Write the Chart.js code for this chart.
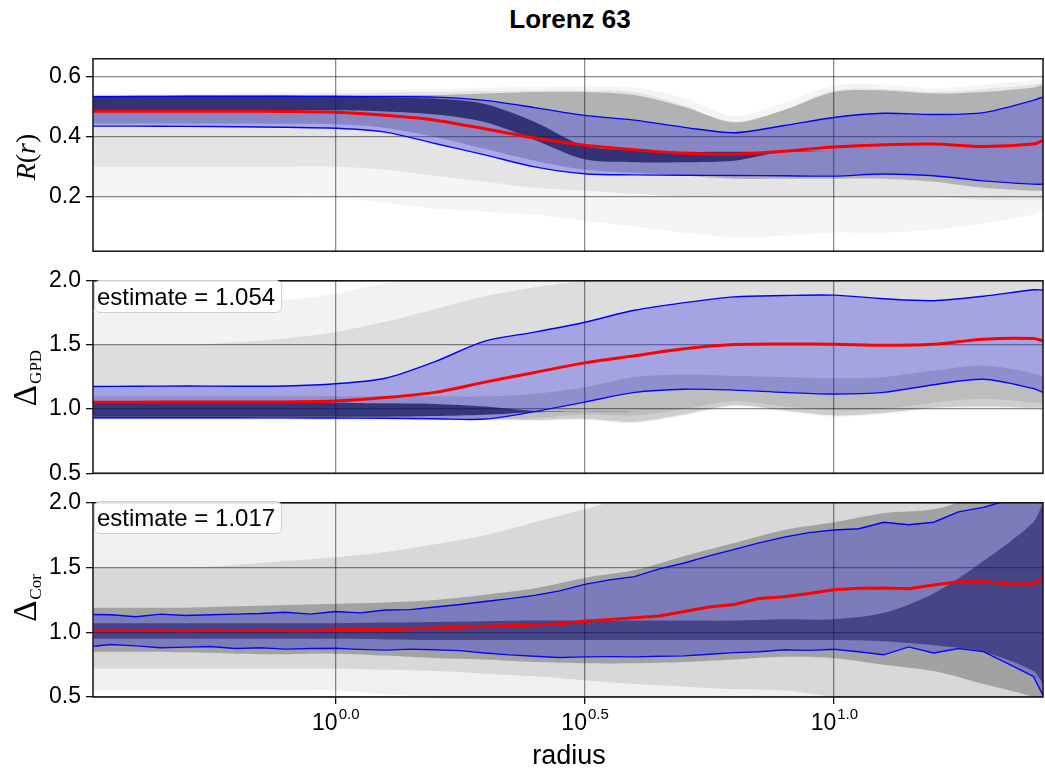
<!DOCTYPE html>
<html>
<head>
<meta charset="utf-8">
<script src="https://cdn.jsdelivr.net/npm/chart.js@4.4.1/dist/chart.umd.min.js"></script>
<style>
  body { margin: 0; background: #fff; }
  #wrap { position: relative; width: 1045px; height: 773px; font-family: "Liberation Sans", Arial, sans-serif; overflow: hidden; }
  canvas { position: absolute; left: 0; }
  .title { position: absolute; left: 570px; top: 4px; transform: translateX(-50%); font-weight: bold; font-size: 26px; white-space: nowrap; }
  .xlab { position: absolute; left: 569px; top: 740px; transform: translateX(-50%); font-size: 27px; white-space: nowrap; }
  .ylab { position: absolute; transform: translate(-50%, -50%) rotate(-90deg); font-family: "Liberation Serif", "DejaVu Serif", serif; font-size: 28px; white-space: nowrap; line-height: 1; }
  .ylab .d { font-size: 33px; }
  .ylab .s { font-size: 17px; position: relative; top: 5px; margin-left: 1px; }
  .est { position: absolute; left: 94px; width: 184px; height: 31px; border: 1px solid #cfcfcf; border-radius: 6px; background: rgba(255,255,255,0.85); font-size: 24px; line-height: 31px; padding-left: 2px; white-space: nowrap; }
</style>
</head>
<body>
<div id="wrap">
  <canvas id="c1" width="1045" height="230" style="top:40px"></canvas>
  <canvas id="c2" width="1045" height="230" style="top:262px"></canvas>
  <canvas id="c3" width="1045" height="289" style="top:484px"></canvas>
  <div class="title">Lorenz 63</div>
  <div class="xlab">radius</div>
  <div class="ylab" style="left:26px; top:157px;"><i>R</i>(<i>r</i>)</div>
  <div class="ylab" style="left:25px; top:378px;"><span class="d">Δ</span><span class="s">GPD</span></div>
  <div class="ylab" style="left:25px; top:598px;"><span class="d">Δ</span><span class="s">Cor</span></div>
  <div class="est" style="top:280px;">estimate = 1.054</div>
  <div class="est" style="top:501px;">estimate = 1.017</div>
</div>
<script>
// radius grids (coarse for smooth curves / gray cloud, fine for the jagged bottom panel)
const radiusA = [0.327, 0.398, 0.501, 0.631, 0.794, 1.0, 1.259, 1.585, 1.995, 2.512, 3.162,
  3.981, 5.012, 6.310, 7.943, 10.0, 12.59, 15.85, 19.95, 25.12, 26.27];
const radiusB = [0.327, 0.355, 0.398, 0.447, 0.501, 0.562, 0.631, 0.708, 0.794, 0.891,
  1.0, 1.122, 1.259, 1.413, 1.585, 1.778, 1.995, 2.239, 2.512, 2.818,
  3.162, 3.548, 3.981, 4.467, 5.012, 5.623, 6.310, 7.079, 7.943, 8.913,
  10.0, 11.22, 12.59, 14.13, 15.85, 17.78, 19.95, 22.39, 25.12, 26.27];

const xTicks = [1, 3.1623, 10];
const xTickExp = ["0.0", "0.5", "1.0"];
const yTicksR = [0.2, 0.4, 0.6];
const yTicksD = [0.5, 1.0, 1.5, 2.0];

// panel 1: R(r)
const medR = [0.486, 0.486, 0.486, 0.486, 0.485, 0.482, 0.472, 0.456, 0.427, 0.396, 0.372,
  0.357, 0.345, 0.342, 0.352, 0.366, 0.374, 0.376, 0.368, 0.376, 0.388];
const hiR = [0.534, 0.535, 0.536, 0.536, 0.536, 0.535, 0.534, 0.533, 0.522, 0.498, 0.472,
  0.456, 0.432, 0.414, 0.438, 0.465, 0.479, 0.475, 0.481, 0.522, 0.534];
const loR = [0.436, 0.436, 0.435, 0.434, 0.432, 0.429, 0.416, 0.378, 0.34, 0.30, 0.277,
  0.273, 0.272, 0.271, 0.270, 0.269, 0.276, 0.27, 0.253, 0.242, 0.242];
const cloudHiR = [0.545, 0.545, 0.545, 0.548, 0.55, 0.555, 0.558, 0.56, 0.565, 0.568, 0.57,
  0.565, 0.53, 0.47, 0.515, 0.572, 0.575, 0.562, 0.575, 0.59, 0.595];
const cloudLoR = [0.19, 0.19, 0.19, 0.19, 0.19, 0.195, 0.18, 0.16, 0.15, 0.14, 0.12,
  0.1, 0.08, 0.065, 0.07, 0.08, 0.08, 0.09, 0.11, 0.14, 0.155];
const midHiR = [0.54, 0.54, 0.54, 0.542, 0.543, 0.545, 0.548, 0.55, 0.553, 0.555, 0.555,
  0.55, 0.505, 0.445, 0.49, 0.555, 0.56, 0.55, 0.56, 0.575, 0.58];
const midLoR = [0.3, 0.3, 0.3, 0.3, 0.3, 0.3, 0.29, 0.27, 0.25, 0.23, 0.22,
  0.21, 0.2, 0.2, 0.2, 0.2, 0.2, 0.2, 0.19, 0.19, 0.19];
const denseHiR = [0.538, 0.538, 0.538, 0.538, 0.539, 0.54, 0.54, 0.54, 0.545, 0.55, 0.55,
  0.54, 0.50, 0.45, 0.49, 0.55, 0.555, 0.545, 0.55, 0.565, 0.575];
const denseLoR = [0.445, 0.445, 0.445, 0.445, 0.444, 0.442, 0.43, 0.40, 0.36, 0.32, 0.29,
  0.28, 0.27, 0.26, 0.26, 0.26, 0.26, 0.25, 0.23, 0.22, 0.22];
const coreHiR = [0.534, 0.535, 0.535, 0.535, 0.535, 0.534, 0.532, 0.528, 0.51, 0.45, 0.37,
  0.355, 0.35, 0.35, 0.35, 0.35, 0.35, 0.35, 0.35, 0.35, 0.35];
const coreLoR = [0.49, 0.49, 0.49, 0.49, 0.49, 0.489, 0.485, 0.475, 0.45, 0.39, 0.325,
  0.315, 0.315, 0.32, 0.35, 0.35, 0.35, 0.35, 0.35, 0.35, 0.35];

// panel 2: Delta GPD
const medG = [1.054, 1.054, 1.055, 1.055, 1.056, 1.062, 1.09, 1.13, 1.21, 1.285, 1.36,
  1.415, 1.47, 1.503, 1.508, 1.506, 1.497, 1.505, 1.545, 1.55, 1.532];
const hiG = [1.176, 1.178, 1.18, 1.178, 1.18, 1.197, 1.24, 1.37, 1.53, 1.60, 1.677,
  1.77, 1.83, 1.875, 1.885, 1.888, 1.86, 1.845, 1.88, 1.93, 1.928];
const loG = [0.932, 0.932, 0.932, 0.932, 0.931, 0.93, 0.928, 0.924, 0.922, 0.98, 1.054,
  1.13, 1.155, 1.148, 1.13, 1.117, 1.13, 1.19, 1.232, 1.16, 1.13];
const cloudHiG = [1.75, 1.78, 1.8, 1.82, 1.85, 1.9, 1.98, 2.05, 2.05, 2.05, 2.05,
  2.05, 2.05, 2.05, 2.05, 2.05, 2.05, 2.05, 2.05, 2.05, 2.05];
const cloudLoG = [0.915, 0.915, 0.915, 0.915, 0.915, 0.913, 0.912, 0.91, 0.908, 0.905, 0.915,
  0.89, 0.95, 1.02, 0.98, 0.94, 0.96, 1.0, 1.01, 1.0, 1.0];
const midHiG = [1.5, 1.5, 1.5, 1.52, 1.55, 1.6, 1.68, 1.78, 1.88, 1.95, 2.0,
  2.05, 2.05, 2.05, 2.05, 2.05, 2.05, 2.05, 2.05, 2.05, 2.05];
const midLoG = [0.925, 0.925, 0.925, 0.925, 0.925, 0.924, 0.922, 0.92, 0.918, 0.93, 0.96,
  0.95, 1.0, 1.06, 1.02, 0.99, 1.0, 1.05, 1.08, 1.05, 1.05];
const denseHiG = [1.1, 1.1, 1.1, 1.1, 1.1, 1.1, 1.1, 1.1, 1.1, 1.12, 1.17,
  1.25, 1.27, 1.26, 1.25, 1.24, 1.25, 1.3, 1.34, 1.28, 1.25];
const denseLoG = [0.925, 0.925, 0.925, 0.925, 0.925, 0.923, 0.922, 0.92, 0.918, 0.915, 0.925,
  0.9, 0.96, 1.03, 0.99, 0.95, 0.97, 1.01, 1.02, 1.01, 1.01];
const coreHiG = [1.05, 1.05, 1.05, 1.05, 1.05, 1.05, 1.045, 1.04, 1.02, 0.985, 0.98,
  0.98, 0.98, 0.98, 0.98, 0.98, 0.98, 0.98, 0.98, 0.98, 0.98];
const coreLoG = [0.94, 0.94, 0.94, 0.94, 0.94, 0.94, 0.94, 0.945, 0.955, 0.975, 0.98,
  0.98, 0.98, 0.98, 0.98, 0.98, 0.98, 0.98, 0.98, 0.98, 0.98];

// panel 3: Delta Cor (fine grid for the lines)
const medC = [1.014, 1.015, 1.013, 1.015, 1.012, 1.016, 1.014, 1.016, 1.014, 1.012,
  1.02, 1.022, 1.02, 1.028, 1.032, 1.038, 1.046, 1.05, 1.056, 1.066,
  1.085, 1.099, 1.112, 1.125, 1.16, 1.195, 1.215, 1.26, 1.275, 1.30,
  1.328, 1.34, 1.342, 1.336, 1.365, 1.39, 1.39, 1.375, 1.373, 1.422];
const hiC = [1.137, 1.135, 1.12, 1.14, 1.13, 1.135, 1.14, 1.145, 1.155, 1.14,
  1.16, 1.15, 1.172, 1.175, 1.195, 1.215, 1.238, 1.26, 1.285, 1.32,
  1.37, 1.405, 1.43, 1.49, 1.535, 1.59, 1.64, 1.69, 1.735, 1.77,
  1.79, 1.80, 1.85, 1.83, 1.85, 1.93, 1.965, 2.02, 2.1, 2.15];
const loC = [0.892, 0.905, 0.895, 0.88, 0.885, 0.89, 0.875, 0.88, 0.87, 0.875,
  0.877, 0.868, 0.862, 0.87, 0.865, 0.858, 0.84, 0.825, 0.815, 0.805,
  0.81, 0.812, 0.81, 0.815, 0.818, 0.83, 0.843, 0.85, 0.865, 0.86,
  0.869, 0.85, 0.826, 0.887, 0.84, 0.875, 0.851, 0.755, 0.66, 0.513];
const cloudHiC = [2.05, 2.05, 2.05, 2.05, 2.05, 2.05, 2.05, 2.05, 2.05, 2.05, 2.05,
  2.05, 2.05, 2.05, 2.05, 2.05, 2.05, 2.05, 2.05, 2.05, 2.05];
const cloudLoC = [0.55, 0.55, 0.55, 0.55, 0.55, 0.55, 0.52, 0.5, 0.45, 0.45, 0.45,
  0.45, 0.45, 0.45, 0.45, 0.45, 0.45, 0.45, 0.45, 0.45, 0.45];
const midHiC = [1.5, 1.5, 1.5, 1.52, 1.55, 1.58, 1.62, 1.68, 1.75, 1.85, 1.95,
  2.05, 2.05, 2.05, 2.05, 2.05, 2.05, 2.05, 2.05, 2.05, 2.05];
const midLoC = [0.72, 0.72, 0.72, 0.72, 0.72, 0.72, 0.71, 0.7, 0.68, 0.66, 0.63,
  0.6, 0.58, 0.56, 0.55, 0.5, 0.45, 0.45, 0.45, 0.45, 0.45];
const denseHiC = [1.19, 1.19, 1.19, 1.2, 1.21, 1.22, 1.23, 1.25, 1.29, 1.34, 1.42,
  1.48, 1.59, 1.69, 1.79, 1.85, 1.92, 1.95, 2.05, 2.05, 2.05];
const denseLoC = [0.85, 0.85, 0.845, 0.835, 0.83, 0.835, 0.82, 0.8, 0.79, 0.77, 0.76,
  0.76, 0.77, 0.79, 0.81, 0.8, 0.75, 0.7, 0.6, 0.5, 0.45];
const coreHiC = [1.07, 1.07, 1.07, 1.07, 1.07, 1.07, 1.075, 1.08, 1.085, 1.09, 1.09,
  1.09, 1.09, 1.09, 1.1, 1.1, 1.15, 1.3, 1.55, 1.85, 2.0];
const coreLoC = [0.95, 0.95, 0.95, 0.95, 0.95, 0.95, 0.945, 0.94, 0.94, 0.94, 0.94,
  0.94, 0.94, 0.94, 0.94, 0.94, 0.93, 0.9, 0.85, 0.7, 0.6];

const tickFont = { family: "Liberation Sans", size: 23 };
const gridColor = "rgba(0,0,0,0.45)";

function pts(xs, ys) {
  return xs.map((x, i) => ({ x: x, y: ys[i] }));
}

function buildDatasets(bands, lineXs, hi, lo, med, tension) {
  const ds = [];
  bands.forEach(([h, l, color], k) => {
    ds.push({ data: pts(radiusA, h), fill: "+1", backgroundColor: color, borderWidth: 0, pointRadius: 0, order: 10 - k, tension: 0.3 });
    ds.push({ data: pts(radiusA, l), fill: false, borderWidth: 0, pointRadius: 0, order: 10 - k, tension: 0.3 });
  });
  ds.push({ data: pts(lineXs, hi), fill: "+1", backgroundColor: "rgba(45,45,235,0.32)", borderColor: "#0000ff", borderWidth: 1.4, pointRadius: 0, order: 3, tension: tension });
  ds.push({ data: pts(lineXs, lo), fill: false, borderColor: "#0000ff", borderWidth: 1.4, pointRadius: 0, order: 3, tension: tension });
  ds.push({ data: pts(lineXs, med), fill: false, borderColor: "#ff0000", borderWidth: 3, pointRadius: 0, order: 1, tension: tension });
  return ds;
}

const framePlugin = {
  id: "frame",
  afterDraw(chart) {
    const a = chart.chartArea;
    const ctx = chart.ctx;
    ctx.save();
    ctx.strokeStyle = "#111";
    ctx.lineWidth = 1.5;
    ctx.strokeRect(a.left, a.top, a.right - a.left, a.bottom - a.top);
    ctx.restore();
  }
};

const powerTicks = {
  id: "powerTicks",
  afterDraw(chart) {
    const sx = chart.scales.x;
    const ctx = chart.ctx;
    const y = chart.chartArea.bottom + 33;
    ctx.save();
    ctx.fillStyle = "#000";
    ctx.textBaseline = "alphabetic";
    xTicks.forEach((v, i) => {
      const px = sx.getPixelForValue(v);
      ctx.font = '23px "Liberation Sans"';
      const w1 = ctx.measureText("10").width;
      ctx.font = '15px "Liberation Sans"';
      const w2 = ctx.measureText(xTickExp[i]).width;
      const left = px - (w1 + w2) / 2;
      ctx.font = '23px "Liberation Sans"';
      ctx.fillText("10", left, y);
      ctx.font = '15px "Liberation Sans"';
      ctx.fillText(xTickExp[i], left + w1 + 1, y - 11);
    });
    ctx.restore();
  }
};

function makeChart(id, datasets, yMin, yMax, yTicks, padding, bottom) {
  return new Chart(document.getElementById(id), {
    type: "line",
    data: { datasets: datasets },
    plugins: bottom ? [framePlugin, powerTicks] : [framePlugin],
    options: {
      responsive: false,
      animation: false,
      devicePixelRatio: 1,
      layout: { padding: padding },
      plugins: { legend: { display: false }, tooltip: { enabled: false } },
      scales: {
        x: {
          type: "logarithmic",
          bounds: "data",
          min: 0.3266,
          max: 26.27,
          afterBuildTicks: s => { s.ticks = xTicks.map(v => ({ value: v })); },
          ticks: { display: false },
          grid: { color: gridColor, lineWidth: 1.3, drawTicks: bottom, tickLength: 7, tickColor: "#111", tickWidth: 1.3 },
          border: { display: false }
        },
        y: {
          min: yMin,
          max: yMax,
          afterBuildTicks: s => { s.ticks = yTicks.map(v => ({ value: v })); },
          afterFit: s => { s.width = 93; },
          ticks: { font: tickFont, color: "#000", padding: 5, callback: v => v.toFixed(1) },
          grid: { color: gridColor, lineWidth: 1.3, tickLength: 7, tickColor: "#111", tickWidth: 1.3 },
          border: { display: false }
        }
      }
    }
  });
}

makeChart("c1", buildDatasets([
  [cloudHiR, cloudLoR, "rgba(0,0,0,0.04)"],
  [midHiR, midLoR, "rgba(0,0,0,0.07)"],
  [denseHiR, denseLoR, "rgba(0,0,0,0.22)"],
  [coreHiR, coreLoR, "rgba(0,0,15,0.70)"]
], radiusA, hiR, loR, medR, 0.3), 0.018, 0.661, yTicksR, { top: 18, bottom: 15, left: 0, right: 2 }, false);

makeChart("c2", buildDatasets([
  [cloudHiG, cloudLoG, "rgba(0,0,0,0.05)"],
  [midHiG, midLoG, "rgba(0,0,0,0.09)"],
  [denseHiG, denseLoG, "rgba(0,0,0,0.15)"],
  [coreHiG, coreLoG, "rgba(0,0,15,0.70)"]
], radiusA, hiG, loG, medG, 0.3), 0.5, 2.0, yTicksD, { top: 17, bottom: 16, left: 0, right: 2 }, false);

makeChart("c3", buildDatasets([
  [cloudHiC, cloudLoC, "rgba(0,0,0,0.06)"],
  [midHiC, midLoC, "rgba(0,0,0,0.10)"],
  [denseHiC, denseLoC, "rgba(0,0,0,0.25)"],
  [coreHiC, coreLoC, "rgba(0,0,15,0.50)"]
], radiusB, hiC, loC, medC, 0), 0.5, 2.0, yTicksD, { top: 16, bottom: 69, left: 0, right: 2 }, true);
</script>
</body>
</html>
